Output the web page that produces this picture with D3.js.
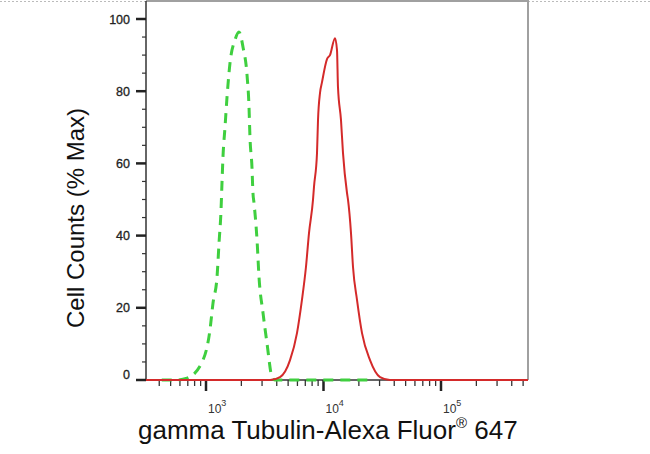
<!DOCTYPE html>
<html>
<head>
<meta charset="utf-8">
<script src="https://cdn.jsdelivr.net/npm/d3@7"></script>
<style>
  body { margin: 0; background: #fff; }
  svg { display: block; font-family: "Liberation Sans", Arial, sans-serif; }
</style>
</head>
<body>
<svg id="chart" width="650" height="454"></svg>
<script>
// Isotype control (green dashed) – fluorescence vs % max
var controlX = [420, 560, 689, 942, 1081, 1147, 1241, 1291, 1342, 1368, 1395, 1451, 1510, 1600, 1765, 1909,
                2066, 2234, 2323, 2367, 2461, 2510, 2563, 2718, 2826, 3056, 3304, 3646, 3860, 24000];
var controlY = [0, 0, 0.5, 5.5, 13.9, 21.3, 28.5, 38, 47, 54.6, 61.8, 70, 78.4, 87.8, 94.2, 96.4,
                92.2, 84.5, 75.6, 67.3, 59, 51.8, 49, 38.8, 28.5, 18.6, 10.2, 0.8, 0, 0];

// gamma Tubulin stained sample (red)
var sampleX = [300, 3509, 4266, 5189, 5947, 6555, 7092, 7527, 8139, 8300, 8805, 8980, 9340, 9712, 10710, 11360,
               12530, 13030, 13280, 14090, 14650, 15850, 16170, 17140, 17830, 19280, 21270, 24880, 30270, 36810, 600000];
var sampleY = [0, 0, 0.8, 5.5, 13, 22.2, 31.3, 40.7, 49.9, 53.5, 62.9, 72, 79.5, 82.5, 88.9, 90,
               94.7, 91.4, 81.2, 72, 62.9, 51.8, 49.9, 40.7, 31.3, 22.2, 13, 5.5, 0.8, 0, 0];

var yTicks = [0, 20, 40, 60, 80, 100];
var xMajor = [1000, 10000, 100000];
var xTickExp = ["3", "4", "5"];

var svg = d3.select("#chart");

// plot frame edges
var pLeft = 146, pRight = 528, pTop = 1, pBottom = 380;

// log scale: one decade ~117.5px, 10^3 at x=206
var x = d3.scaleLog().domain([1000, 100000]).range([206, 441]);
x.domain([x.invert(pLeft), x.invert(pRight)]).range([pLeft, pRight]);

var y = d3.scaleLinear().domain([0, 100]).range([pBottom, 19]);

// dotted line across the top
svg.append("line")
    .attr("x1", 0).attr("x2", 650).attr("y1", 1.5).attr("y2", 1.5)
    .attr("stroke", "#bbb").attr("stroke-width", 1)
    .attr("stroke-dasharray", "2,2");

// frame (top + right in gray)
svg.append("path")
    .attr("d", "M" + pLeft + "," + pTop + "H" + pRight + "V" + pBottom)
    .attr("fill", "none").attr("stroke", "#a0a0a0").attr("stroke-width", 2);

// clip
svg.append("clipPath").attr("id", "clip")
  .append("rect").attr("x", pLeft).attr("y", pTop)
    .attr("width", pRight - pLeft).attr("height", pBottom - pTop + 2);

// y axis
var yMinor = d3.range(0, 101, 5).filter(function(v) { return v % 20 !== 0; });
var gy = svg.append("g");
gy.append("line").attr("x1", pLeft).attr("x2", pLeft).attr("y1", pTop).attr("y2", pBottom)
    .attr("stroke", "#333").attr("stroke-width", 1.5);
gy.selectAll(".ymaj").data(yTicks).enter().append("line")
    .attr("x1", pLeft - 10).attr("x2", pLeft)
    .attr("y1", function(d) { return y(d); }).attr("y2", function(d) { return y(d); })
    .attr("stroke", "#222").attr("stroke-width", 2.5);
gy.selectAll(".ymin").data(yMinor).enter().append("line")
    .attr("x1", pLeft - 4).attr("x2", pLeft)
    .attr("y1", function(d) { return y(d); }).attr("y2", function(d) { return y(d); })
    .attr("stroke", "#333").attr("stroke-width", 1.2);
gy.selectAll(".ylab").data(yTicks).enter().append("text")
    .attr("x", pLeft - 16).attr("y", function(d) { return y(d) + (d === 0 ? -1 : 4.5); })
    .attr("text-anchor", "end").attr("font-size", 12.5).attr("fill", "#222")
    .attr("stroke", "#222").attr("stroke-width", 0.3)
    .text(function(d) { return d; });

// x axis
var xMinor = [];
[100, 1000, 10000, 100000].forEach(function(dec) {
  for (var k = 2; k <= 9; k++) {
    var v = dec * k;
    if (v >= x.domain()[0] && v <= x.domain()[1]) xMinor.push(v);
  }
});
var gx = svg.append("g");
gx.append("line").attr("x1", pLeft).attr("x2", pRight).attr("y1", pBottom).attr("y2", pBottom)
    .attr("stroke", "#333").attr("stroke-width", 1.5);
gx.selectAll(".xmin").data(xMinor).enter().append("line")
    .attr("x1", function(d) { return x(d); }).attr("x2", function(d) { return x(d); })
    .attr("y1", pBottom).attr("y2", pBottom + 6)
    .attr("stroke", "#333").attr("stroke-width", 1.3);
gx.selectAll(".xmaj").data(xMajor).enter().append("line")
    .attr("x1", function(d) { return x(d); }).attr("x2", function(d) { return x(d); })
    .attr("y1", pBottom).attr("y2", pBottom + 11)
    .attr("stroke", "#222").attr("stroke-width", 2.5);
var xl = gx.selectAll(".xlab").data(xMajor).enter().append("text")
    .attr("x", function(d) { return x(d) + 2; }).attr("y", 413)
    .attr("font-size", 12).attr("fill", "#333");
xl.append("tspan").text("10");
xl.append("tspan").attr("dy", -7).attr("font-size", 9)
    .text(function(d, i) { return xTickExp[i]; });

// curves
var line = d3.line()
    .x(function(d) { return x(d[0]); })
    .y(function(d) { return y(d[1]); })
    .curve(d3.curveMonotoneX);

var plot = svg.append("g").attr("clip-path", "url(#clip)");

plot.append("path")
    .datum(d3.zip(controlX, controlY))
    .attr("d", line)
    .attr("fill", "none").attr("stroke", "#3fcf3f").attr("stroke-width", 3)
    .attr("stroke-dasharray", "10,7");

plot.append("path")
    .datum(d3.zip(sampleX, sampleY))
    .attr("d", line)
    .attr("fill", "none").attr("stroke", "#d42a2a").attr("stroke-width", 2)
    .attr("stroke-linejoin", "round");

// axis titles
svg.append("text")
    .attr("transform", "translate(84,218) rotate(-90)")
    .attr("text-anchor", "middle").attr("font-size", 24).attr("fill", "#111")
    .text("Cell Counts (% Max)");

var xt = svg.append("text")
    .attr("x", 138).attr("y", 439)
    .attr("font-size", 26).attr("fill", "#111");
xt.append("tspan").text("gamma Tubulin-Alexa Fluor");
xt.append("tspan").attr("dy", -11).attr("font-size", 15).text("\u00AE");
xt.append("tspan").attr("dy", 11).text(" 647");
</script>
</body>
</html>
